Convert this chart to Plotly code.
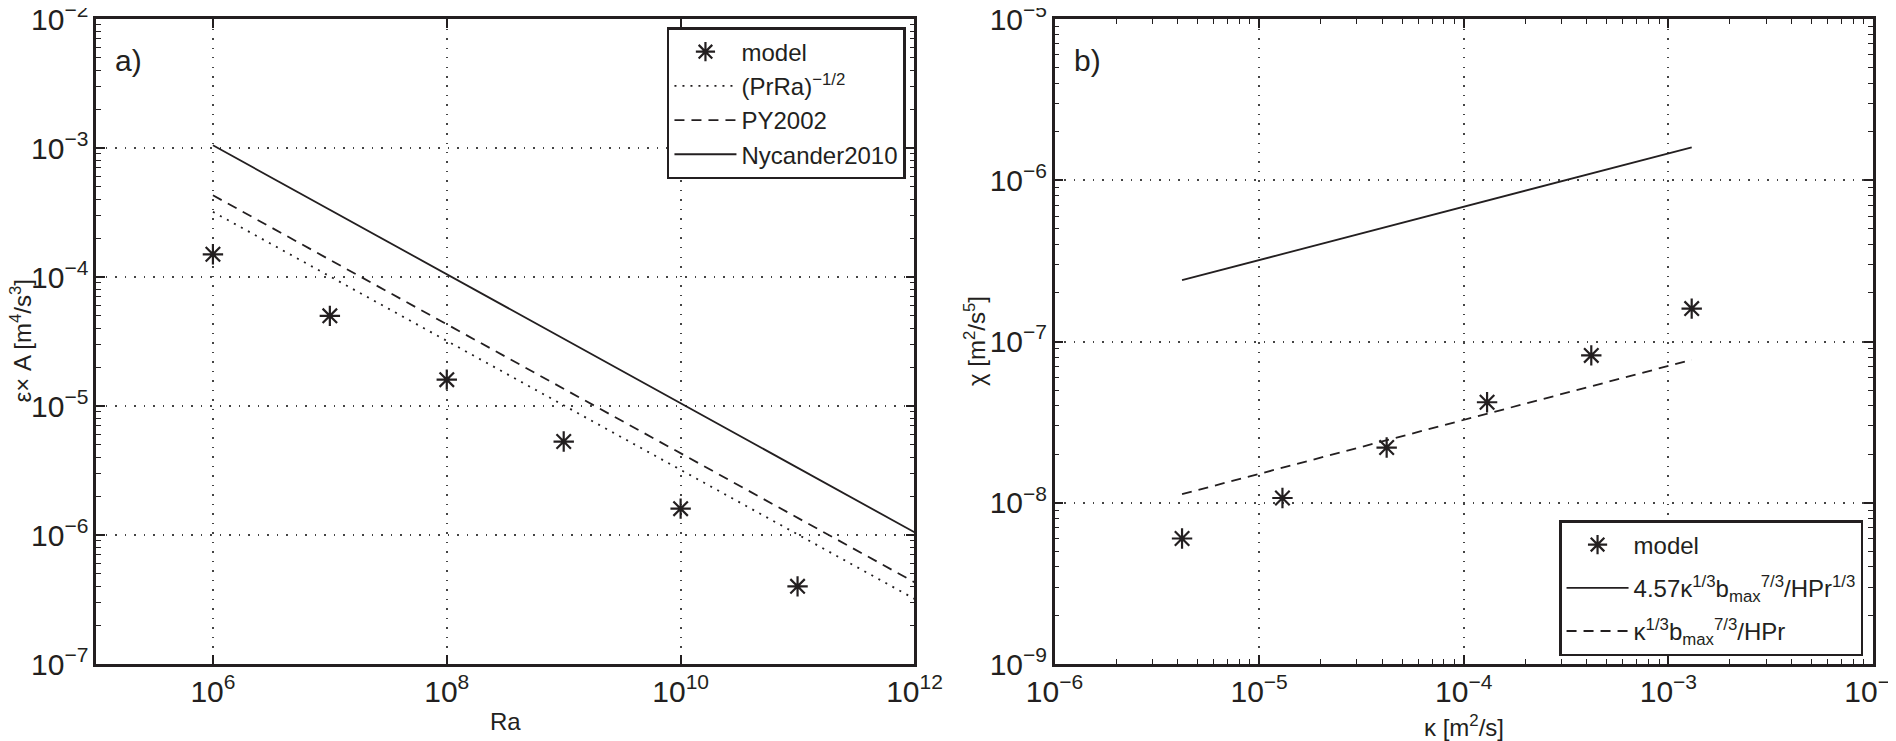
import plotly.graph_objects as go
from plotly.subplots import make_subplots

# panel a)
ra = [1e6, 1e7, 1e8, 1e9, 1e10, 1e11]
eps_model = [1.5e-4, 5.0e-5, 1.6e-5, 5.3e-6, 1.6e-6, 4.0e-7]
ra_line = [1e6, 1e12]
prra = [3.2e-4, 3.2e-7]
py2002 = [4.3e-4, 4.3e-7]
nycander = [1.05e-3, 1.05e-6]

# panel b)
kappa = [4.2e-6, 1.3e-5, 4.2e-5, 1.3e-4, 4.2e-4, 1.3e-3]
chi_model = [6.0e-9, 1.07e-8, 2.2e-8, 4.2e-8, 8.2e-8, 1.6e-7]
kappa_line = [4.2e-6, 1.3e-3]
chi_457 = [2.4e-7, 1.6e-6]
chi_1 = [1.13e-8, 7.7e-8]

INK = "#231f20"
FONT = "Liberation Sans, Arial, sans-serif"


def minor_vals(lo, hi):
    # 2..9 x 10^k between the decades lo and hi
    return [d * 10.0 ** k for k in range(lo, hi) for d in range(2, 10)]


fig = make_subplots(rows=1, cols=2, horizontal_spacing=0.0788)

star = dict(symbol="asterisk-open", size=17, color=INK, line=dict(color=INK, width=2.2))

fig.add_trace(go.Scatter(x=ra, y=eps_model, mode="markers", name="model",
                         marker=star, legend="legend"), row=1, col=1)
fig.add_trace(go.Scatter(x=ra_line, y=prra, mode="lines", name="(PrRa)<sup>−1/2</sup>",
                         line=dict(color=INK, width=1.8, dash="2px,6px"), legend="legend"), row=1, col=1)
fig.add_trace(go.Scatter(x=ra_line, y=py2002, mode="lines", name="PY2002",
                         line=dict(color=INK, width=1.8, dash="10px,7px"), legend="legend"), row=1, col=1)
fig.add_trace(go.Scatter(x=ra_line, y=nycander, mode="lines", name="Nycander2010",
                         line=dict(color=INK, width=1.8), legend="legend"), row=1, col=1)

fig.add_trace(go.Scatter(x=kappa, y=chi_model, mode="markers", name="model",
                         marker=star, legend="legend2", legendgroup="m"), row=1, col=2)
fig.add_trace(go.Scatter(x=kappa_line, y=chi_457, mode="lines",
                         name="4.57κ<sup>1/3</sup>b<sub>max</sub><sup>7/3</sup>/HPr<sup>1/3</sup>",
                         line=dict(color=INK, width=1.8), legend="legend2", legendgroup="a"),
              row=1, col=2)
fig.add_trace(go.Scatter(x=kappa_line, y=chi_1, mode="lines",
                         name="κ<sup>1/3</sup>b<sub>max</sub><sup>7/3</sup>/HPr",
                         line=dict(color=INK, width=1.8, dash="10px,7px"), legend="legend2",
                         legendgroup="b"), row=1, col=2)

# empty traces so the minor-tick overlay axes get drawn
fig.add_trace(go.Scatter(x=[], y=[], xaxis="x", yaxis="y3", showlegend=False, hoverinfo="skip"))
fig.add_trace(go.Scatter(x=[], y=[], xaxis="x3", yaxis="y2", showlegend=False, hoverinfo="skip"))
fig.add_trace(go.Scatter(x=[], y=[], xaxis="x2", yaxis="y4", showlegend=False, hoverinfo="skip"))

axis_style = dict(type="log", showline=True, linecolor=INK, linewidth=2.5, mirror="ticks",
                  ticks="inside", ticklen=9, tickwidth=1.5, tickcolor=INK,
                  showgrid=True, gridcolor="#444444", griddash="1.5px,8px", gridwidth=1.5,
                  exponentformat="power", zeroline=False, ticklabeloverflow="allow",
                  automargin=False, tickfont=dict(size=24, color=INK, family=FONT))

fig.update_xaxes(axis_style)
fig.update_yaxes(axis_style)

fig.update_xaxes(range=[5, 12], dtick=2, row=1, col=1)
fig.update_yaxes(range=[-7, -2], dtick=1, row=1, col=1)
fig.update_xaxes(range=[-6, -2], dtick=1, row=1, col=2)
fig.update_yaxes(range=[-9, -5], dtick=1, row=1, col=2)


def minor_axis(lo, hi, **kw):
    return dict(type="log", range=[lo, hi], autorange=False, tickmode="array",
                tickvals=minor_vals(lo, hi), ticks="inside", ticklen=5, tickwidth=1.2,
                tickcolor=INK, showticklabels=False, showgrid=False, zeroline=False,
                showline=True, linecolor=INK, linewidth=2.5, mirror="ticks",
                automargin=False, **kw)


def label(text, xref, yref, x, y, xshift=0, yshift=0, angle=0, size=24):
    return dict(text=text, xref=xref, yref=yref, x=x, y=y, xshift=xshift, yshift=yshift,
                textangle=angle, xanchor="center", yanchor="middle", showarrow=False,
                font=dict(size=size, color=INK, family=FONT))


legend_style = dict(bgcolor="white", bordercolor=INK, borderwidth=2.5,
                    font=dict(size=24, color=INK, family=FONT), itemwidth=62)

# the page body adds an 8px offset, so the figure is 8px smaller than the window
fig.update_layout(
    width=1888, height=733,
    margin=dict(l=88, r=23, t=11, b=77),
    paper_bgcolor="white", plot_bgcolor="white",
    font=dict(family=FONT, size=24, color=INK),
    yaxis3=minor_axis(-7, -2, overlaying="y", anchor="x", side="left"),
    xaxis3=minor_axis(-6, -2, overlaying="x2", anchor="y2", side="bottom"),
    yaxis4=minor_axis(-9, -5, overlaying="y2", anchor="x2", side="left"),
    legend=dict(legend_style, x=0.4558, y=0.9875, xanchor="right", yanchor="top",
                tracegroupgap=0),
    legend2=dict(legend_style, x=0.9944, y=0.0124, xanchor="right", yanchor="bottom",
                 tracegroupgap=9),
    annotations=[
        label("a)", "x domain", "y domain", 0.04, 0.935, size=30),
        label("b)", "x2 domain", "y2 domain", 0.04, 0.935, size=30),
        label("Ra", "x domain", "y domain", 0.5, 0, yshift=-57),
        label("κ [m<sup>2</sup>/s]", "x2 domain", "y2 domain", 0.5, 0, yshift=-62),
        label("ε× A [m<sup>4</sup>/s<sup>3</sup>]", "x domain", "y domain", 0, 0.5,
              xshift=-76, angle=-90),
        label("χ [m<sup>2</sup>/s<sup>5</sup>]", "x2 domain", "y2 domain", 0, 0.5,
              xshift=-80, angle=-90),
    ],
)

fig.write_html("out.html")
